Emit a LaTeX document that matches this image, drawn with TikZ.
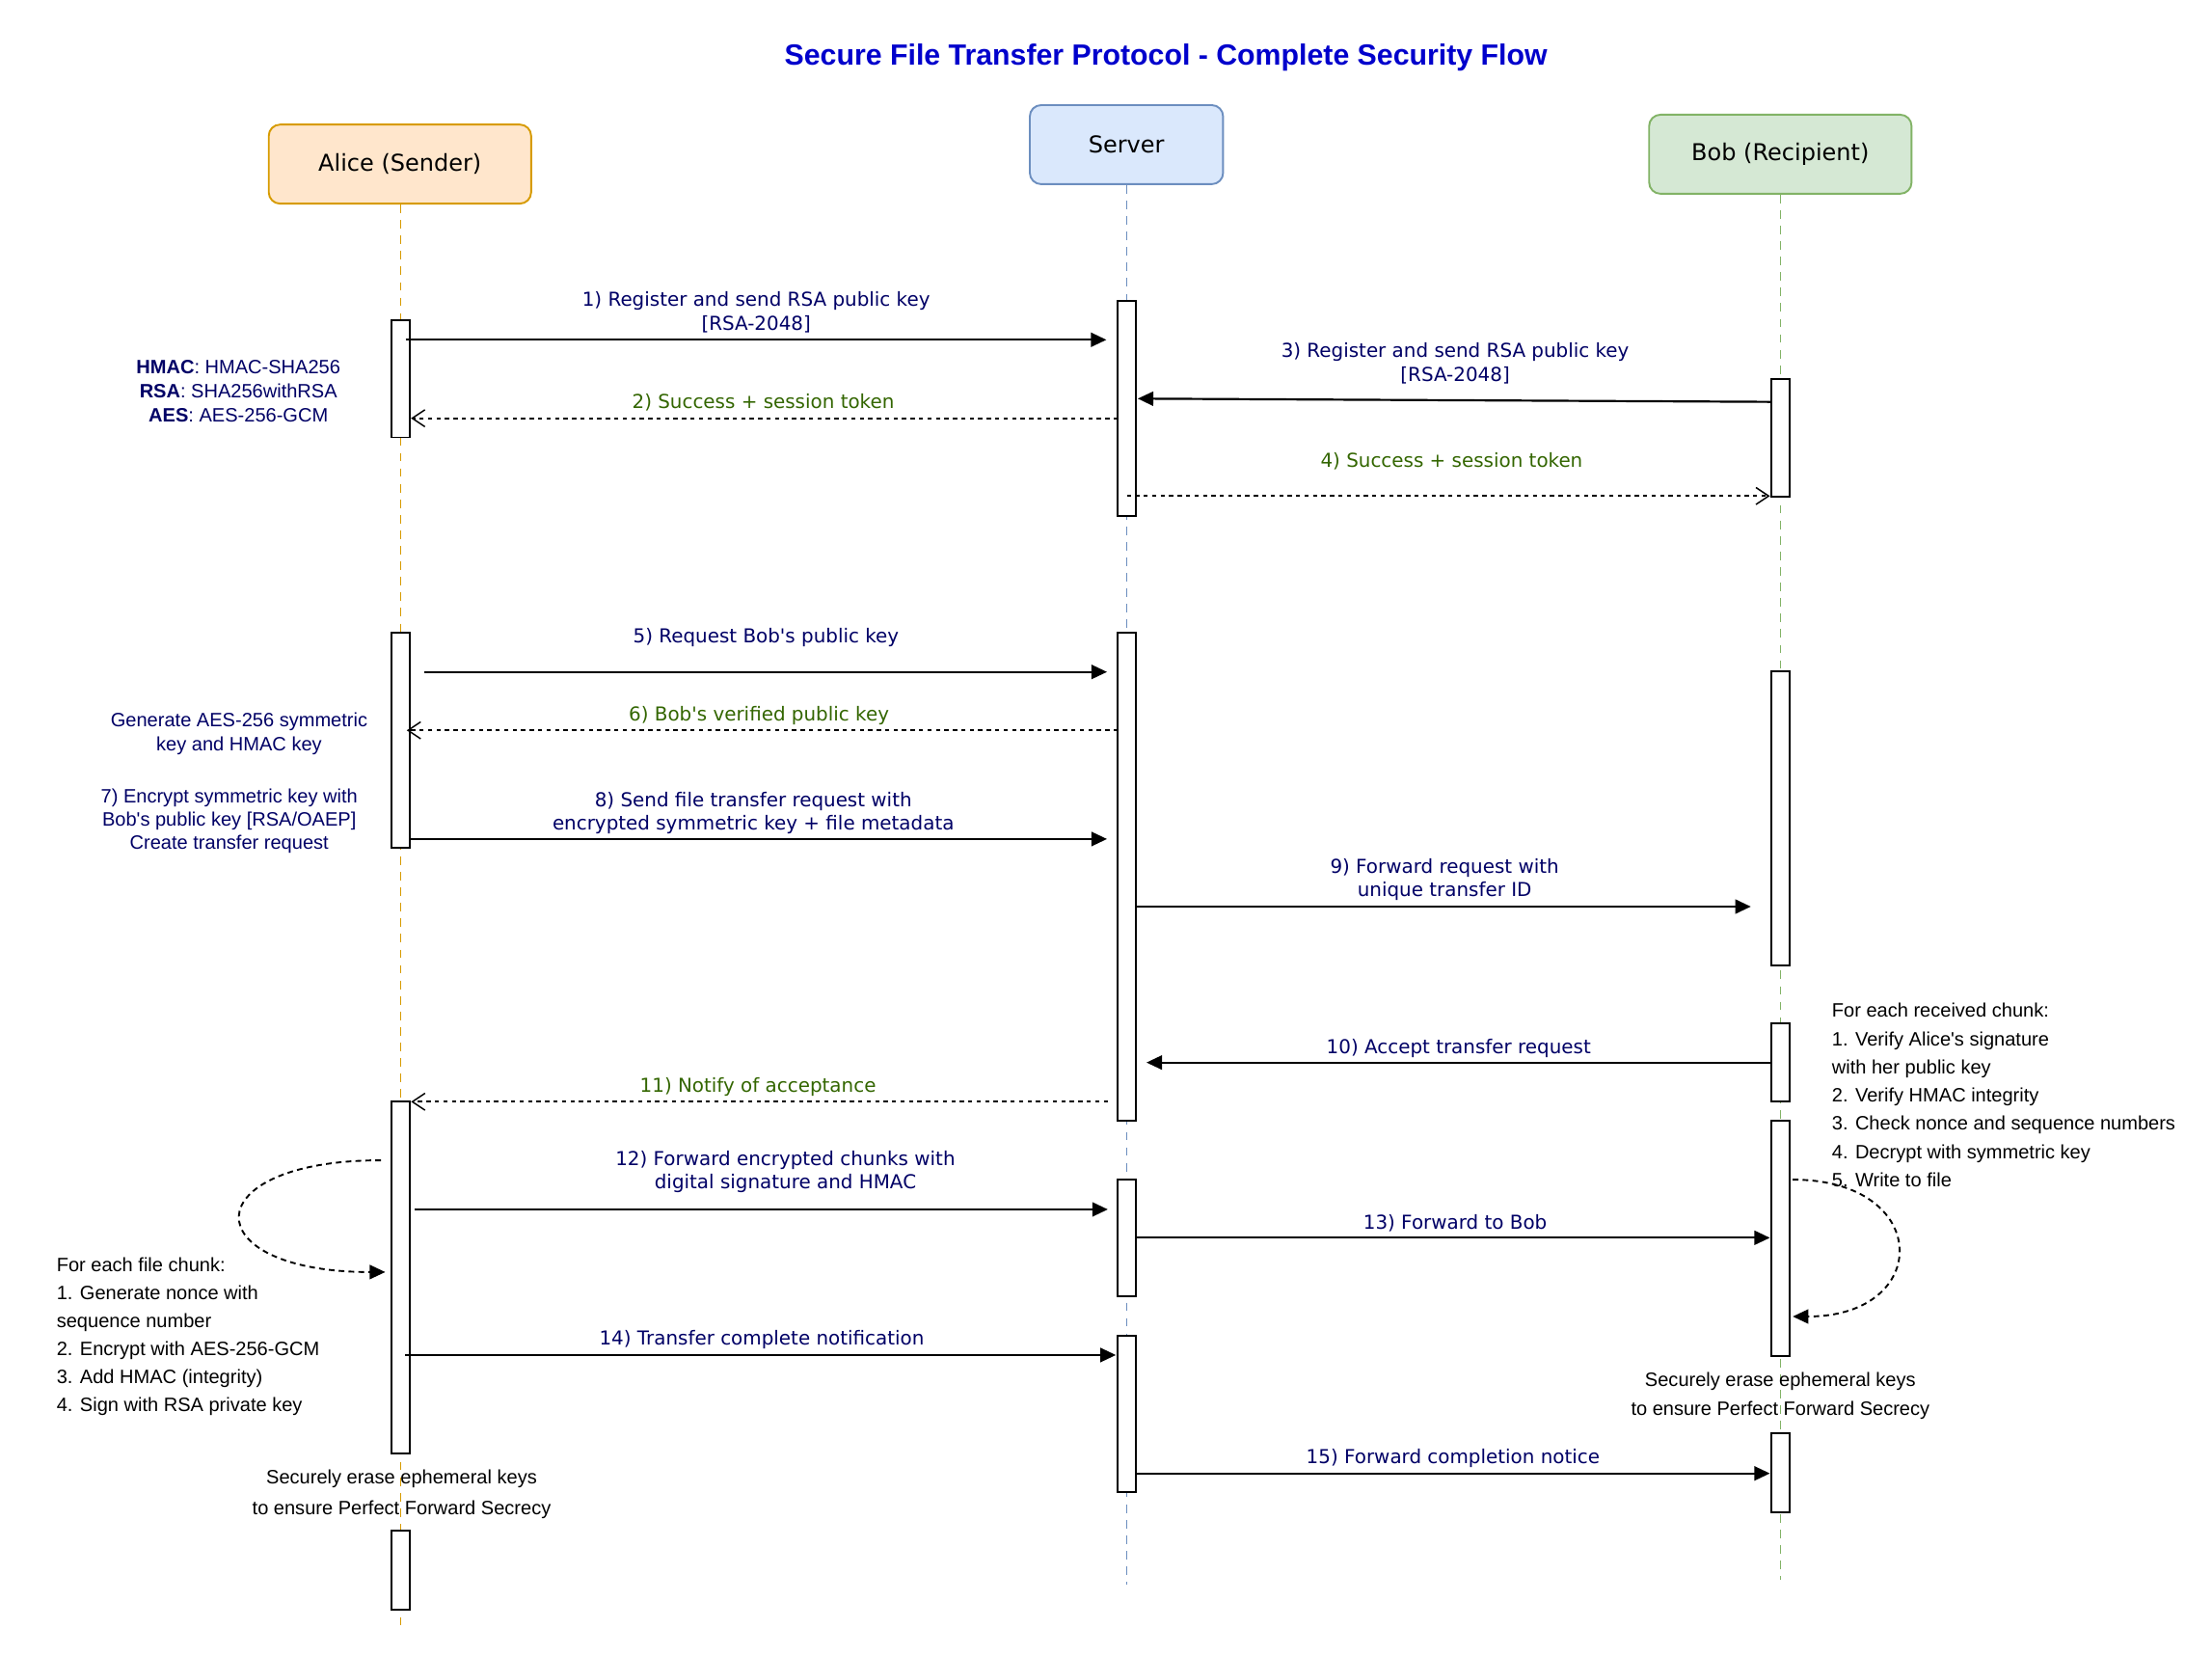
\documentclass[tikz,border=0pt]{standalone}
\usepackage{fontspec}
\setmainfont{Liberation Sans}
\newfontfamily\dvs{DejaVu Sans}
\usetikzlibrary{arrows.meta}
\definecolor{aliceF}{HTML}{FFE6CC}
\definecolor{aliceD}{HTML}{D79B00}
\definecolor{servF}{HTML}{DAE8FC}
\definecolor{servD}{HTML}{6C8EBF}
\definecolor{bobF}{HTML}{D5E8D4}
\definecolor{bobD}{HTML}{82B366}
\definecolor{navyT}{HTML}{000066}
\definecolor{greenT}{HTML}{336600}
\definecolor{titleC}{HTML}{0000CC}
\newcommand\actb[4]{\node[actbar, minimum height={(#4-#3)*1pt}] (#1) at (#2,{(#3+#4)/2}) {};}
\begin{document}
\begin{tikzpicture}[x=1pt,y=-1pt,
  part/.style={draw, rounded corners=8pt, line width=1.3pt, minimum height=56pt, inner sep=0, font=\dvs\fontsize{16.4}{19}\selectfont},
  actbar/.style={draw, fill=white, line width=1.3pt, minimum width=13pt, inner sep=0},
  life/.style={line width=1.1pt, dash pattern=on 6pt off 5pt},
  msg/.style={line width=1.5pt, -{Triangle[length=11pt,width=10pt]}},
  ret/.style={line width=1.4pt, dash pattern=on 3pt off 3pt, -{Straight Barb[length=9pt,width=12pt,line width=1pt]}},
  loopc/.style={line width=1.3pt, dash pattern=on 4pt off 3pt, -{Triangle[length=11pt,width=10pt]}},
  lbl/.style={font=\dvs\fontsize{13.6}{16.5}\selectfont, text=navyT, align=center, inner sep=0},
  glbl/.style={lbl, text=greenT},
  note/.style={font=\fontsize{13.7}{17}\selectfont, text=navyT, align=center, inner sep=0},
  bnote/.style={font=\fontsize{13.7}{20}\selectfont, text=black, align=left, inner sep=0, anchor=west},
  cnote/.style={font=\fontsize{13.7}{21}\selectfont, text=black, align=center, inner sep=0},
]
\useasboundingbox (0,0) rectangle (1568,1173);
\fill[white] (0,0) rectangle (1568,1173);

% title
\node[font=\bfseries\fontsize{20.7}{24}\selectfont, text=titleC, inner sep=0] (title) at (826.5,41) {Secure File Transfer Protocol - Complete Security Flow};

% participants
\node[part, fill=aliceF, draw=aliceD, minimum width=186pt] (alice) at (283.5,116.3) {Alice (Sender)};
\node[part, fill=servF, draw=servD, minimum width=137pt] (server) at (798.5,102.5) {Server};
\node[part, fill=bobF, draw=bobD, minimum width=186pt] (bob) at (1262,109.3) {Bob (Recipient)};

% lifelines
\coordinate (aEnd) at (284,1152.8);
\coordinate (sEnd) at (798.8,1122.8);
\coordinate (bEnd) at (1262.1,1119.8);
\draw[life, aliceD] (alice.south -| aEnd) -- (aEnd);
\draw[life, servD] (server.south -| sEnd) -- (sEnd);
\draw[life, bobD] (bob.south -| bEnd) -- (bEnd);

% activation bars
\actb{a1}{283.7}{227}{310}
\actb{a2}{283.7}{448.4}{600.6}
\actb{a3}{283.7}{780.8}{1029.8}
\actb{a4}{283.7}{1085}{1140.8}
\actb{s1}{798.8}{213.3}{365.7}
\actb{s2}{798.8}{448.4}{794.5}
\actb{s3}{798.8}{836}{918.9}
\actb{s4}{798.8}{946.7}{1057.2}
\actb{b1}{1262.1}{268.4}{352}
\actb{b2}{1262.1}{476}{684}
\actb{b3}{1262.1}{725.2}{780.8}
\actb{b4}{1262.1}{794.5}{960.8}
\actb{b5}{1262.1}{1015.9}{1071.5}

% message end points
\coordinate (m1a) at (287.5,240.8);  \coordinate (m1b) at (784.3,240.8);
\coordinate (m2a) at (792.4,296.4);  \coordinate (m2b) at (291.3,296.4);
\coordinate (m3a) at (1255.6,284.8); \coordinate (m3b) at (806.5,282.5);
\coordinate (m4a) at (798.7,351.5);  \coordinate (m4b) at (1254.6,351.5);
\coordinate (m5a) at (300.9,476.2);  \coordinate (m5b) at (784.7,476.2);
\coordinate (m6a) at (792.4,517.6);  \coordinate (m6b) at (288.3,517.6);
\coordinate (m8a) at (290,594.6);    \coordinate (m8b) at (784.7,594.6);
\coordinate (m9a) at (805.3,642.5);  \coordinate (m9b) at (1241.1,642.5);
\coordinate (m10a) at (1255.6,753);  \coordinate (m10b) at (812.7,753);
\coordinate (m11a) at (785.3,780.8); \coordinate (m11b) at (291.4,780.8);
\coordinate (m12a) at (294,857.1);   \coordinate (m12b) at (785.3,857.1);
\coordinate (m13a) at (805.3,877.2); \coordinate (m13b) at (1254.6,877.2);
\coordinate (m14a) at (287.3,960.3); \coordinate (m14b) at (791,960.3);
\coordinate (m15a) at (805.3,1044.2);\coordinate (m15b) at (1254.6,1044.2);

\draw[msg] (m1a) -- (m1b);
\draw[ret] (m2a) -- (m2b);
\draw[msg] (m3a) -- (m3b);
\draw[ret] (m4a) -- (m4b);
\draw[msg] (m5a) -- (m5b);
\draw[ret] (m6a) -- (m6b);
\draw[msg] (m8a) -- (m8b);
\draw[msg] (m9a) -- (m9b);
\draw[msg] (m10a) -- (m10b);
\draw[ret] (m11a) -- (m11b);
\draw[msg] (m12a) -- (m12b);
\draw[msg] (m13a) -- (m13b);
\draw[msg] (m14a) -- (m14b);
\draw[msg] (m15a) -- (m15b);

% labels
\node[lbl] (l1) at (536,221.3) {1) Register and send RSA public key\\{}[RSA-2048]};
\node[glbl] (l2) at (541,285.2) {2) Success + session token};
\node[lbl] (l3) at (1031.5,257.5) {3) Register and send RSA public key\\{}[RSA-2048]};
\node[glbl] (l4) at (1029,327) {4) Success + session token};
\node[lbl] (l5) at (543,451.6) {5) Request Bob\textquotesingle s public key};
\node[glbl] (l6) at (538,507) {6) Bob\textquotesingle s verified public key};
\node[lbl] (l8) at (534,576.3) {8) Send file transfer request with\\encrypted symmetric key + file metadata};
\node[lbl] (l9) at (1024,623.2) {9) Forward request with\\unique transfer ID};
\node[lbl] (l10) at (1034,742.7) {10) Accept transfer request};
\node[glbl] (l11) at (537.3,770.1) {11) Notify of acceptance};
\node[lbl] (l12) at (556.7,830.7) {12) Forward encrypted chunks with\\digital signature and HMAC};
\node[lbl] (l13) at (1031.5,866.9) {13) Forward to Bob};
\node[lbl] (l14) at (540,949.6) {14) Transfer complete notification};
\node[lbl] (l15) at (1030,1033.2) {15) Forward completion notice};

% self loops
\coordinate (la1) at (270,822.3);   \coordinate (la2) at (273.1,901.5);
\coordinate (lb1) at (1270.8,836);  \coordinate (lb2) at (1270.8,933);
\draw[loopc] (la1) .. controls (137,822.3) and (137,901.5) .. (la2);
\draw[loopc] (lb1) .. controls (1370,836) and (1370,933) .. (lb2);

% notes
\node[note] (n1) at (169,277.2) {\textbf{HMAC}: HMAC-SHA256\\\textbf{RSA}: SHA256withRSA\\\textbf{AES}: AES-256-GCM};
\node[note, font=\fontsize{13.7}{16.5}\selectfont] (n2) at (169.5,520) {Generate AES-256 symmetric\\key and HMAC key};
\node[note, font=\fontsize{13.7}{16.5}\selectfont] (n3) at (162.5,582) {7) Encrypt symmetric key with\\Bob\textquotesingle s public key [RSA/OAEP]\\Create transfer request};
\node[bnote, font=\fontsize{13.7}{19.8}\selectfont] (n4) at (40,947.3) {For each file chunk:\\1. Generate nonce with\\sequence number\\2. Encrypt with AES-256-GCM\\3. Add HMAC (integrity)\\4. Sign with RSA private key};
\node[bnote] (n5) at (1298.4,776.1) {For each received chunk:\\1. Verify Alice\textquotesingle s signature\\with her public key\\2. Verify HMAC integrity\\3. Check nonce and sequence numbers\\4. Decrypt with symmetric key\\5. Write to file};
\node[cnote, font=\fontsize{13.7}{21.7}\selectfont] (n6) at (284.7,1058.9) {Securely erase ephemeral keys\\to ensure Perfect Forward Secrecy};
\node[cnote, font=\fontsize{13.7}{20.5}\selectfont] (n7) at (1262,989.5) {Securely erase ephemeral keys\\to ensure Perfect Forward Secrecy};
\end{tikzpicture}
\end{document}
